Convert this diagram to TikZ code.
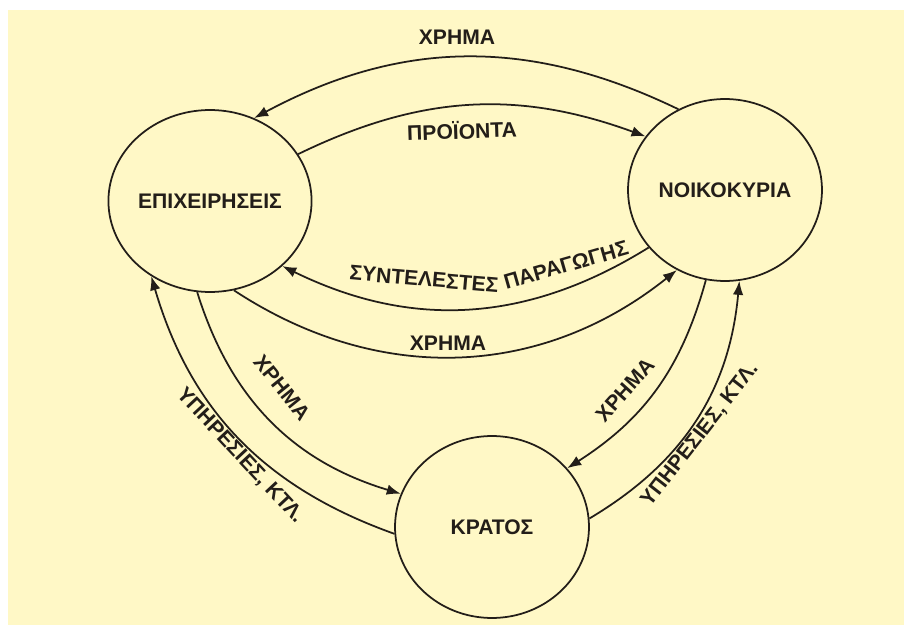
\documentclass[tikz,border=0pt]{standalone}
\usepackage{fontspec}
\setmainfont{Liberation Sans}
\usetikzlibrary{shapes.geometric,arrows.meta}
\definecolor{paper}{RGB}{255,248,198}
\definecolor{ink}{RGB}{35,30,25}
\begin{document}
\begin{tikzpicture}[x=0.02cm,y=-0.02cm,
  sector/.style={draw=ink, line width=1pt, ellipse, minimum width=3.88cm, minimum height=3.64cm, inner sep=0pt, text=ink, font=\fontsize{12}{14}\selectfont\bfseries},
  flow/.style={draw=ink, line width=1pt, -{Latex[length=2.8mm,width=2.1mm]}},
  lbl/.style={text=ink, inner sep=1pt, font=\fontsize{12}{14}\selectfont\bfseries}]
\fill[white] (0,0) rectangle (904,625);
\fill[paper] (8,10) rectangle (904,625);
\node[sector] (firms) at (210,201) {ΕΠΙΧΕΙΡΗΣΕΙΣ};
\node[sector] (house) at (725,190) {ΝΟΙΚΟΚΥΡΙΑ};
\node[sector] (state) at (492,527) {ΚΡΑΤΟΣ};
\draw[flow] (house.120) to[bend right=27] (firms.62);
\draw[flow] (firms.28) to[bend left=23] (house.146);
\draw[flow] (house.217) to[bend left=29] (firms.318);
\draw[flow] (firms.285) to[bend right=36] (house.239);
\draw[flow] (firms.262) to[bend right=28] (state.160);
\draw[flow] (state.184) to[bend left=27] (firms.232);
\draw[flow] (house.258) to[bend left=21] (state.38);
\draw[flow] (state.5) to[bend right=27] (house.279);
\node[lbl] (moneytop) at (457,37) {ΧΡΗΜΑ};
\node[lbl, rotate=2] (goods) at (462,130) {ΠΡΟΪΟΝΤΑ};
\node[lbl, rotate=-5] (factors) at (424,279) {ΣΥΝΤΕΛΕΣΤΕΣ};
\node[lbl, rotate=16] (production) at (566,265) {ΠΑΡΑΓΩΓΗΣ};
\node[lbl] (moneylow) at (448,343) {ΧΡΗΜΑ};
\node[lbl, rotate=-51] (moneyleft) at (282,388) {ΧΡΗΜΑ};
\node[lbl, rotate=-47] (servleft) at (240,456) {ΥΠΗΡΕΣΙΕΣ, ΚΤΛ.};
\node[lbl, rotate=48] (moneyright) at (625,390) {ΧΡΗΜΑ};
\node[lbl, rotate=52] (servright) at (700,435) {ΥΠΗΡΕΣΙΕΣ, ΚΤΛ.};
\end{tikzpicture}
\end{document}
